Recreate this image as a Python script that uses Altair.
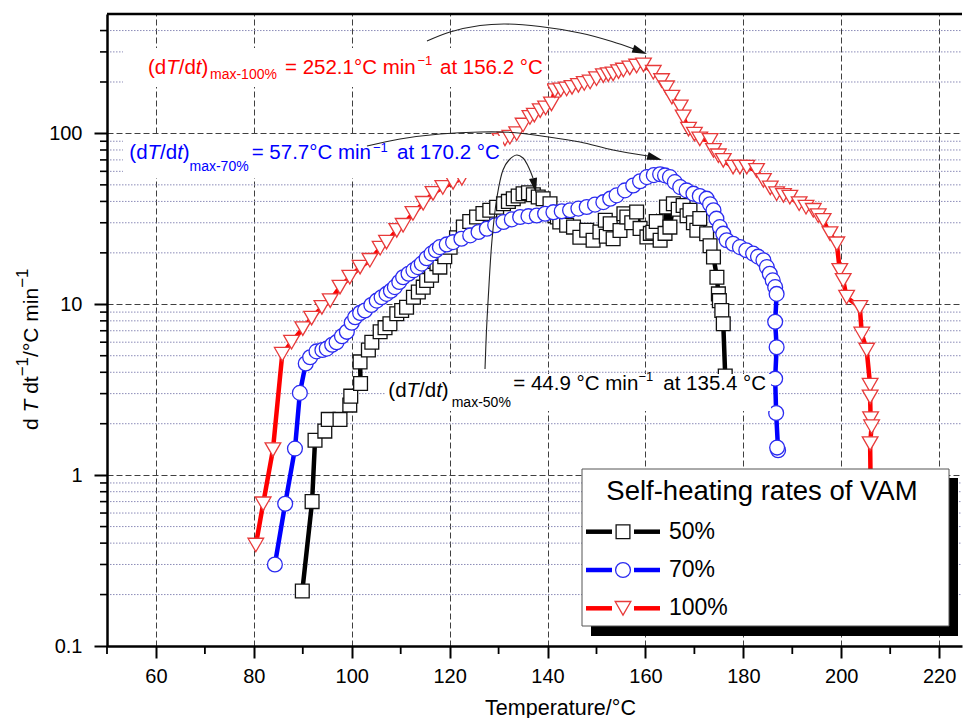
import math
import altair as alt
import pandas as pd

# ---------------- data ----------------
temp_50 = [89.9, 91.9, 92.5, 94.5, 95.2, 97.6, 99.6, 99.8, 101.8, 101.7,
           103.4, 104.1, 105.8, 106.8, 107.8, 109.2, 110.2, 111.2, 112.6, 113.6,
           114.6, 115.3, 116.3, 117.4, 118.0, 119.0, 120.1, 121.4, 122.8, 124.1,
           125.5, 126.8, 128.2, 129.6, 131.0, 132.0, 133.0, 134.0, 135.0, 136.1,
           137.1, 138.1, 139.1, 140.5, 141.5, 142.0, 142.5, 143.9, 145.3, 146.6,
           148.0, 149.3, 150.7, 151.8, 152.0, 152.8, 153.4, 154.8, 155.6, 156.2,
           157.2, 158.2, 158.9, 160.3, 161.0, 161.5, 162.2, 163.0, 164.0, 164.3,
           165.0, 165.7, 166.7, 167.7, 168.5, 169.1, 169.8, 170.5, 171.1, 172.5,
           173.2, 173.9, 174.6, 174.9, 175.1, 175.6, 175.9, 176.3]
rate_50 = [0.21, 0.70, 1.60, 1.81, 2.12, 2.12, 2.57, 2.90, 3.44, 4.6,
           5.4, 6.0, 6.9, 7.3, 7.7, 8.8, 9.2, 9.6, 11.0, 11.8,
           12.6, 13.8, 14.8, 17.3, 16.5, 19.0, 21.6, 24.5, 28.3, 30.5,
           32.4, 34.0, 35.5, 37.0, 38.8, 40.0, 41.5, 43.0, 44.4, 44.9,
           43.8, 42.5, 41.5, 38.8, 33.0, 32.4, 30.3, 29.0, 28.3, 24.7,
           27.1, 23.7, 26.5, 31.0, 25.0, 29.6, 24.2, 27.0, 33.9, 32.4,
           30.0, 34.7, 27.8, 24.8, 26.0, 26.4, 30.5, 23.7, 26.0, 37.1,
           28.3, 38.8, 36.0, 37.9, 33.0, 35.5, 30.0, 27.1, 31.8, 25.9,
           22.0, 18.9, 14.4, 11.5, 10.5, 9.2, 7.7, 3.8]

temp_70 = [84.3, 86.4, 88.4, 89.4, 90.6, 91.5, 92.8, 94.0, 94.9, 96.0,
           96.9, 98.0, 99.0, 100.0, 100.7, 101.7, 102.7, 104.0, 105.1, 106.1,
           107.1, 108.0, 108.8, 109.7, 110.5, 111.6, 112.6, 113.5, 114.3, 115.3,
           116.3, 117.2, 118.0, 119.4, 120.7, 122.4, 124.2, 125.9, 127.6, 129.3,
           131.0, 132.7, 134.4, 136.1, 137.8, 139.5, 141.2, 142.9, 144.6, 146.3,
           148.0, 149.7, 151.4, 152.8, 154.1, 155.8, 157.5, 158.9, 160.3, 161.7,
           163.0, 164.0, 165.0, 166.0, 167.1, 168.4, 169.8, 171.1, 172.5, 173.2,
           173.9, 174.5, 175.2, 175.9, 176.6, 177.9, 179.3, 180.6, 182.0, 183.0,
           184.1, 184.8, 185.4, 186.0, 186.5, 186.8, 186.5, 186.8, 186.5, 186.7,
           187.1, 186.9]
rate_70 = [0.30, 0.68, 1.43, 3.03, 4.5, 4.9, 5.3, 5.4, 5.5, 5.8,
           6.0, 6.5, 6.9, 7.8, 8.4, 8.9, 9.2, 9.9, 10.5, 11.0,
           11.5, 12.0, 12.6, 13.5, 14.4, 15.1, 15.8, 16.5, 17.3, 18.6,
           19.8, 20.7, 21.6, 22.4, 23.1, 24.2, 25.3, 26.5, 27.7, 29.0,
           30.3, 31.4, 32.4, 32.8, 33.1, 33.9, 34.6, 35.0, 35.5, 36.3,
           37.1, 38.3, 39.6, 41.5, 43.4, 46.4, 49.6, 52.5, 55.5, 57.0,
           57.7, 56.8, 55.5, 51.9, 48.5, 46.4, 44.4, 43.0, 41.5, 38.5,
           35.5, 31.7, 28.3, 25.9, 23.7, 22.6, 21.6, 20.7, 19.8, 19.0,
           18.1, 16.5, 15.1, 13.8, 12.6, 11.5, 7.9, 5.6, 3.67, 2.31,
           1.40, 1.45]

temp_100 = [80.4, 81.9, 83.9, 85.8, 87.7, 90.0, 91.8, 93.9, 95.6, 97.6,
            99.6, 101.7, 103.7, 105.8, 107.1, 109.2, 110.5, 112.5, 114.6, 116.6,
            118.6, 120.7, 122.5, 130.3, 131.3, 132.3, 133.7, 135.0, 136.4, 137.3,
            138.5, 139.6, 140.8, 141.5, 142.7, 143.9, 145.0, 146.3, 147.5, 148.7,
            150.0, 151.4, 152.4, 153.4, 154.5, 155.5, 156.8, 158.2, 159.6, 161.6,
            163.3, 164.3, 165.4, 167.1, 167.7, 168.8, 170.0, 171.1, 173.2, 173.9,
            174.9, 175.9, 177.9, 179.3, 180.7, 182.7, 184.1, 185.5, 186.8, 188.2,
            189.5, 191.4, 192.8, 194.3, 195.3, 196.3, 197.7, 199.1, 199.7, 200.4,
            201.1, 203.8, 204.2, 205.2, 205.9, 205.9, 206.0, 206.2, 205.9, 206.0]
rate_100 = [0.39, 0.68, 1.41, 5.1, 6.0, 7.2, 8.3, 9.6, 10.5, 12.6,
            14.4, 16.5, 18.1, 21.3, 23.1, 27.1, 29.0, 34.0, 39.0, 44.6,
            48.3, 51.7, 54.6, 91.0, 93.0, 95.0, 99.6, 112.0, 124.0, 128.0,
            136.0, 141.0, 149.0, 178.0, 180.0, 182.0, 186.0, 191.0, 196.0, 200.0,
            209.0, 218.0, 221.0, 223.0, 230.0, 235.0, 242.0, 248.0, 252.1, 228.0,
            204.0, 185.0, 163.0, 143.0, 125.0, 106.0, 99.0, 93.0, 91.0, 79.6,
            74.0, 69.6, 63.5, 63.5, 63.5, 60.8, 53.1, 48.0, 44.4, 43.4,
            42.4, 38.8, 37.0, 35.5, 33.0, 31.0, 25.9, 22.6, 15.8, 13.8,
            11.0, 9.6, 6.7, 5.4, 3.36, 2.87, 2.14, 1.92, 1.53, 0.9]

series_labels = ["50%", "70%", "100%"]
legend_title = "Self-heating rates of VAM"
x_major_ticks = [60, 80, 100, 120, 140, 160, 180, 200, 220]
x_minor_ticks = [50, 70, 90, 110, 130, 150, 170, 190, 210]
y_major_ticks = [0.1, 1, 10, 100]
y_minor_ticks = [0.2, 0.3, 0.4, 0.5, 0.6, 0.7, 0.8, 0.9,
                 2, 3, 4, 5, 6, 7, 8, 9,
                 20, 30, 40, 50, 60, 70, 80, 90,
                 200, 300, 400]

# ---------------- layout / style ----------------
PL, PT, W, H = 107, 14, 855, 632
FONT = "Liberation Sans"
BLACK, BLUE, RED = "#000000", "#0000ff", "#ff0000"
XS = alt.Scale(domain=[50, 224.67], nice=False, zero=False)
YS = alt.Scale(type="log", domain=[0.1, 500], nice=False)
AF = 20.5  # annotation font size

AW = {"(": 333, ")": 333, "d": 556, "T": 611, "/": 278, "t": 278, " ": 278,
      "=": 584, ".": 278, "°": 400, "C": 722, "m": 833, "i": 222, "n": 556,
      "a": 556, "x": 500, "-": 333, "%": 889, "−": 584}


def tw(s, size):
    return sum(AW.get(c, 556) for c in s) * size / 1000.0


def sdf(t, r):
    return pd.DataFrame({"T": t, "R": r, "i": list(range(len(t)))})


d50, d70, d100 = sdf(temp_50, rate_50), sdf(temp_70, rate_70), sdf(temp_100, rate_100)

layers = []

xaxis = alt.Axis(orient="bottom", values=x_major_ticks, grid=True, gridDash=[6, 3], gridColor="#404040",
                 gridWidth=1, domainColor="black", domainWidth=2.5, tickColor="black", tickWidth=2,
                 tickSize=12, labelFont=FONT, labelFontSize=20, labelColor="black", labelPadding=8,
                 labelFlush=False, labelOverlap=False,
                 title="Temperature/°C", titleFont=FONT, titleFontSize=21.5, titleFontWeight="normal",
                 titleColor="black", titleX=453, titleY=68, titleBaseline="alphabetic", titleAlign="center")
yaxis = alt.Axis(orient="left", values=y_major_ticks, grid=True, gridDash=[6, 3], gridColor="#404040",
                 gridWidth=1, domainColor="black", domainWidth=2.5, tickColor="black", tickWidth=2,
                 tickSize=13, labelFont=FONT, labelFontSize=20, labelColor="black", labelPadding=12,
                 labelFlush=False, labelOverlap=False,
                 labelExpr="datum.value < 1 ? '0.1' : format(datum.value, 'd')", title=None)


def line_layer(df, color):
    return alt.Chart(df).mark_line(color=color, strokeWidth=4.5).encode(
        x=alt.X("T:Q", scale=XS, axis=None),
        y=alt.Y("R:Q", scale=YS, axis=None),
        order="i:Q")


def point_layer(df, shape, color, size):
    return alt.Chart(df).mark_point(shape=shape, filled=True, fill="white", stroke=color,
                                    strokeWidth=1.3, size=size, opacity=1).encode(
        x=alt.X("T:Q", scale=XS, axis=None),
        y=alt.Y("R:Q", scale=YS, axis=None))


# minor dotted grid (carries the main y axis), minor ticks
ymin_df = pd.DataFrame({"v": y_minor_ticks})
xmin_df = pd.DataFrame({"v": x_minor_ticks})
layers.append(alt.Chart(ymin_df).mark_rule(color="#8c8cb8", strokeDash=[1.5, 1.5], strokeWidth=1).encode(
    y=alt.Y("v:Q", scale=YS, axis=yaxis), x=alt.value(3), x2=alt.value(W)))
layers.append(alt.Chart(ymin_df).mark_rule(color="black", strokeWidth=1.6).encode(
    y=alt.Y("v:Q", scale=YS, axis=None), x=alt.value(-7), x2=alt.value(0)))
layers.append(alt.Chart(xmin_df).mark_rule(color="black", strokeWidth=1.8).encode(
    x=alt.X("v:Q", scale=XS, axis=xaxis), y=alt.value(H), y2=alt.value(H + 8)))

layers += [line_layer(d50, BLACK), point_layer(d50, "square", "#111111", 190),
           line_layer(d70, BLUE), point_layer(d70, "circle", "#2b2bf0", 220),
           line_layer(d100, RED), point_layer(d100, "triangle-down", "#e83a3a", 245)]

# white backgrounds behind the annotation texts
boxes = pd.DataFrame({"x1": [123, 123, 386], "x2": [547, 503, 771],
                      "y1": [48, 136, 374], "y2": [87, 178, 411]})
boxes = boxes.assign(x1=boxes.x1 - PL, x2=boxes.x2 - PL, y1=boxes.y1 - PT, y2=boxes.y2 - PT)
layers.append(alt.Chart(boxes).mark_rect(fill="white", stroke=None).encode(
    x=alt.X("x1:Q", scale=None), x2="x2:Q", y=alt.Y("y1:Q", scale=None), y2="y2:Q"))

# curved arrows
arrow_paths = {
    "r": [(427, 41), (450, 32), (480, 25.5), (505, 24), (540, 26.5), (580, 33), (612, 41.5), (634, 49)],
    "b": [(367, 146), (400, 139), (440, 134), (480, 132), (513, 132.5), (547, 136.7), (580, 142),
          (613, 150), (648, 156)],
    "k": [(485, 369), (486.5, 330), (488.3, 297), (492, 240), (497, 197), (503, 170), (509, 160),
          (516.7, 155), (523, 158), (528, 166), (533, 178)],
}
arows = []
for k, pts in arrow_paths.items():
    for j, (px, py) in enumerate(pts):
        arows.append({"id": k, "o": j, "px": px - PL, "py": py - PT})
layers.append(alt.Chart(pd.DataFrame(arows)).mark_line(color="#222222", strokeWidth=1.1,
                                                       interpolate="catmull-rom").encode(
    x=alt.X("px:Q", scale=None), y=alt.Y("py:Q", scale=None), detail="id:N", order="o:Q"))
heads = pd.DataFrame({"px": [647 - PL, 662 - PL, 536 - PL], "py": [54 - PT, 160 - PT, 193 - PT],
                      "ang": [21.0, 16.0, 78.7]})
layers.append(alt.Chart(heads).mark_point(shape="M0,0L-1,-0.27L-1,0.27Z", filled=True, fill="#111111",
                                          strokeWidth=0, size=900, opacity=1).encode(
    x=alt.X("px:Q", scale=None), y=alt.Y("py:Q", scale=None), angle=alt.Angle("ang:Q", scale=None)))

# top frame line
layers.append(alt.Chart(pd.DataFrame({"a": [0]})).mark_rule(color="black", strokeWidth=2.5).encode(
    x=alt.value(0), x2=alt.value(W), y=alt.value(0)))

# ---------------- texts (rich text as runs) ----------------
rows = []


def put(text, x, y, size, color, italic=False, angle=0):
    rows.append({"text": text, "px": x - PL, "py": y - PT, "size": size, "color": color,
                 "it": italic, "angle": angle})


def annot(x0, base, sub, sub_x, sub_base, main, main_x, main_base, sup_x, sup_base, tail, tail_x, color):
    x = x0
    for piece, it in [("(d", False), ("T", True), ("/d", False), ("t", True), (")", False)]:
        put(piece, x, base, AF, color, it)
        x += tw(piece, AF)
    put(sub, sub_x, sub_base, 14, color)
    put(main, main_x, main_base, AF, color)
    put("−1", sup_x, sup_base, 13, color)
    put(tail, tail_x, main_base, AF, color)


annot(148, 74, "max-100%", 210, 79, "= 252.1°C min", 285, 74, 417.5, 65, "at 156.2 °C", 440, RED)
annot(129.3, 159, "max-70%", 189.5, 171, "= 57.7°C min", 251.7, 159, 373, 152, "at 170.2 °C", 397, BLUE)
annot(388.3, 397, "max-50%", 451.7, 407, "= 44.9 °C min", 513.3, 390, 638.5, 381, "at 135.4 °C", 663.3, BLACK)

# rotated y-axis title: d T dt^-1 / °C min^-1
yy = 430.0
for piece, it, sz, bx, adv in [("d", False, 21, 37.5, "d "), ("T", True, 21, 37.5, "T "),
                               ("dt", False, 21, 37.5, "dt"), ("−1", False, 17, 28, "−1"),
                               ("/°C min", False, 21, 37.5, "/°C min"), ("−1", False, 17, 28, "−1")]:
    put(piece, bx, yy, sz, BLACK, it, 270)
    yy -= tw(adv, sz)

# legend texts
put(legend_title, 606.3, 500, 27.5, BLACK)
leg_y = [531.7, 570.0, 608.3]
for lab, yc in zip(series_labels, leg_y):
    put(lab, 669, yc + 7, 23, BLACK)

tdf = pd.DataFrame(rows)


def text_layer(df, style):
    return alt.Chart(df).mark_text(align="left", baseline="alphabetic", font=FONT, fontStyle=style).encode(
        x=alt.X("px:Q", scale=None), y=alt.Y("py:Q", scale=None), text="text:N",
        size=alt.Size("size:Q", scale=None, legend=None),
        color=alt.Color("color:N", scale=None, legend=None),
        angle=alt.Angle("angle:Q", scale=None, legend=None))


# ---------------- legend box ----------------
shadow = pd.DataFrame({"x1": [591 - PL], "x2": [958 - PL], "y1": [478 - PT], "y2": [636 - PT]})
lbox = pd.DataFrame({"x1": [582 - PL], "x2": [949 - PL], "y1": [469 - PT], "y2": [626 - PT]})
layers.append(alt.Chart(shadow).mark_rect(fill="black").encode(
    x=alt.X("x1:Q", scale=None), x2="x2:Q", y=alt.Y("y1:Q", scale=None), y2="y2:Q"))
layers.append(alt.Chart(lbox).mark_rect(fill="white", stroke="#555555", strokeWidth=1).encode(
    x=alt.X("x1:Q", scale=None), x2="x2:Q", y=alt.Y("y1:Q", scale=None), y2="y2:Q"))

legend_colors = [BLACK, BLUE, RED]
seg_rows = []
for c, yc in zip(legend_colors, leg_y):
    seg_rows.append({"x1": 586 - PL, "x2": 612 - PL, "y": yc - PT, "c": c})
    seg_rows.append({"x1": 634 - PL, "x2": 660 - PL, "y": yc - PT, "c": c})
layers.append(alt.Chart(pd.DataFrame(seg_rows)).mark_rule(strokeWidth=4.5).encode(
    x=alt.X("x1:Q", scale=None), x2="x2:Q", y=alt.Y("y:Q", scale=None),
    color=alt.Color("c:N", scale=None, legend=None)))
for shape, c, yc, sz in zip(["square", "circle", "triangle-down"], ["#111111", "#2b2bf0", "#e83a3a"],
                            leg_y, [190, 220, 245]):
    layers.append(alt.Chart(pd.DataFrame({"px": [623 - PL], "py": [yc - PT]})).mark_point(
        shape=shape, filled=True, fill="white", stroke=c, strokeWidth=1.3, size=sz, opacity=1).encode(
        x=alt.X("px:Q", scale=None), y=alt.Y("py:Q", scale=None)))

layers.append(text_layer(tdf[~tdf.it], "normal"))
layers.append(text_layer(tdf[tdf.it], "italic"))

chart = alt.layer(*layers).resolve_axis(x="independent", y="independent").properties(
    width=W, height=H,
    padding={"left": PL, "top": PT, "right": 963 - PL - W, "bottom": 718 - PT - H},
    autosize=alt.AutoSizeParams(type="none"),
).configure(font=FONT, background="white").configure_view(stroke=None)

chart.save("out.html", embed_options={"renderer": "svg", "actions": False})
